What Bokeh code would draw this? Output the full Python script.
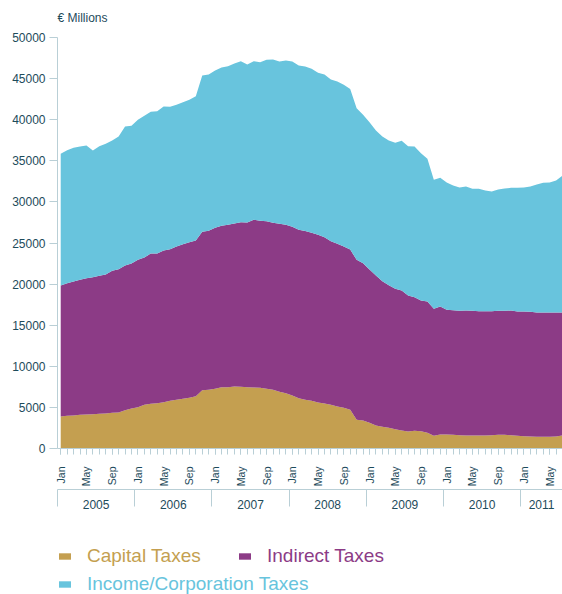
import math
from bokeh.plotting import figure
from bokeh.layouts import column
from bokeh.models import (Range1d, LinearAxis, FixedTicker, SingleIntervalTicker,
                          NumeralTickFormatter, Legend, LegendItem, ColumnDataSource)
from bokeh.embed import file_html
from bokeh.resources import INLINE

years = ["2005", "2006", "2007", "2008", "2009", "2010", "2011"]
month_names = ["Jan", "Feb", "Mar", "Apr", "May", "Jun",
               "Jul", "Aug", "Sep", "Oct", "Nov", "Dec"]
shown_months = ["Jan", "May", "Sep"]

capital = [3890, 3970, 4010, 4100, 4140, 4180, 4220, 4260, 4340, 4380,
           4660, 4870, 5030, 5310, 5430, 5510, 5640, 5800, 5920, 6040,
           6160, 6370, 7100, 7140, 7260, 7460, 7460, 7540, 7500, 7460,
           7420, 7380, 7260, 7140, 6900, 6730, 6450, 6120, 5920, 5800,
           5600, 5470, 5310, 5110, 4950, 4710, 3490, 3410, 3130, 2800,
           2640, 2510, 2350, 2190, 2070, 2150, 2110, 1910, 1540, 1700,
           1700, 1660, 1620, 1580, 1580, 1580, 1580, 1620, 1660, 1660,
           1620, 1540, 1500, 1460, 1420, 1420, 1420, 1460, 1580]

indirect = [15940, 16140, 16310, 16420, 16580, 16660, 16790, 16910, 17280, 17430,
            17600, 17640, 17920, 17930, 18290, 18210, 18450, 18450, 18650, 18810,
            18940, 18930, 19260, 19340, 19590, 19630, 19750, 19830, 20030, 20030,
            20400, 20320, 20390, 20320, 20430, 20480, 20520, 20480, 20540, 20440,
            20400, 20240, 19910, 19790, 19620, 19500, 19460, 19130, 18650, 18250,
            17710, 17360, 17080, 17030, 16540, 16260, 15890, 15970, 15450, 15570,
            15170, 15170, 15130, 15210, 15170, 15130, 15130, 15090, 15090, 15090,
            15170, 15130, 15170, 15170, 15120, 15120, 15120, 15080, 14960]

income = [16020, 16180, 16260, 16220, 16140, 15410, 15770, 15900, 15850, 16140,
          16910, 16740, 17030, 17230, 17240, 17320, 17510, 17320, 17240, 17280,
          17320, 17560, 19010, 19020, 19130, 19260, 19300, 19470, 19580, 19220,
          19290, 19290, 19630, 19860, 19750, 19990, 20110, 19990, 20010, 19950,
          19700, 19790, 19670, 19750, 19670, 19540, 18450, 18050, 17920, 17630,
          17600, 17600, 17760, 18210, 18170, 18330, 17920, 17360, 15700, 15660,
          15490, 15160, 15000, 15080, 14840, 14880, 14680, 14560, 14760, 14880,
          14920, 15040, 15080, 15240, 15580, 15780, 15820, 16060, 16670]

series_names = ["Capital Taxes", "Indirect Taxes", "Income/Corporation Taxes"]
colors = ["#c49f50", "#8c3b86", "#68c4dd"]

n = len(capital)
month = list(range(n))
src = ColumnDataSource(dict(month=month, capital=capital, indirect=indirect, income=income))

TEAL = "#1d4b5b"
LINE = "#b9cfd6"
FONT = "Liberation Sans"

p = figure(width=562, height=520, output_backend="svg", toolbar_location=None,
           x_range=Range1d(-0.5, n - 1), y_range=Range1d(0, 50000),
           min_border_left=57, min_border_right=0, min_border_top=0, min_border_bottom=72,
           title="€ Millions")
p.outline_line_color = None
p.xgrid.visible = False
p.ygrid.visible = False
p.background_fill_color = "white"

p.title.text_font_size = "12px"
p.title.text_font_style = "normal"
p.title.text_color = TEAL
p.title.text_font = FONT
p.title.align = "left"
p.title.vertical_align = "top"
p.title.standoff = 21

rs = p.varea_stack(["capital", "indirect", "income"], x="month", source=src, color=colors)

# y axis
ya = p.yaxis[0]
ya.ticker = SingleIntervalTicker(interval=5000)
ya.formatter = NumeralTickFormatter(format="0")
ya.axis_line_color = LINE
ya.major_tick_line_color = LINE
ya.major_tick_out = 8
ya.major_tick_in = 0
ya.minor_tick_line_color = None
ya.major_label_standoff = 4
ya.major_label_text_font_size = "12px"
ya.major_label_text_color = TEAL
ya.major_label_text_font = FONT

# month axis
xa = p.xaxis[0]
major_months = [i for i in month if month_names[i % 12] in shown_months]
xa.ticker = FixedTicker(ticks=major_months, minor_ticks=month)
xa.major_label_overrides = {i: month_names[i % 12] for i in major_months}
xa.major_label_orientation = math.pi / 2
xa.axis_line_color = LINE
xa.major_tick_line_color = LINE
xa.minor_tick_line_color = LINE
xa.major_tick_out = 6
xa.minor_tick_out = 6
xa.major_tick_in = 0
xa.minor_tick_in = 0
xa.major_label_standoff = 12
xa.major_label_text_font_size = "10.5px"
xa.major_label_text_color = TEAL
xa.major_label_text_font = FONT

# year axis
bounds = []
mids = []
for k, yname in enumerate(years):
    start = 12 * k - 0.5
    end = min(12 * k + 11.5, n - 1)
    bounds.append(start)
    mids.append((start + end) / 2)
year_axis = LinearAxis(ticker=FixedTicker(ticks=mids, minor_ticks=bounds),
                       major_label_overrides={m: y for m, y in zip(mids, years)})
year_axis.axis_line_color = LINE
year_axis.major_tick_line_color = None
year_axis.major_tick_out = 0
year_axis.major_tick_in = 0
year_axis.minor_tick_line_color = LINE
year_axis.minor_tick_out = 17
year_axis.minor_tick_in = 0
year_axis.major_label_standoff = -7
year_axis.major_label_text_font_size = "12px"
year_axis.major_label_text_color = TEAL
year_axis.major_label_text_font = FONT
p.add_layout(year_axis, "below")

# legend strip below the chart
lg = figure(width=562, height=74, output_backend="svg", toolbar_location=None,
            x_range=Range1d(0, 1), y_range=Range1d(0, 1),
            x_axis_location=None, y_axis_location=None,
            min_border_left=0, min_border_right=0, min_border_top=0, min_border_bottom=0)
lg.outline_line_color = None
lg.xgrid.visible = False
lg.ygrid.visible = False

legend_pos = [(0, 27), (180, 27), (0, -1)]
for name, c, loc in zip(series_names, colors, legend_pos):
    r = lg.varea(x=[0], y1=[0], y2=[0], color=c)
    leg = Legend(items=[LegendItem(label=name, renderers=[r])], location=loc,
                 orientation="horizontal", glyph_width=15, glyph_height=8,
                 label_standoff=15, padding=0, margin=0, spacing=0,
                 border_line_color=None, background_fill_alpha=0,
                 label_text_font_size="19px", label_text_color=c,
                 label_text_font=FONT)
    lg.add_layout(leg)

layout = column(p, lg, spacing=0)
open("out.html", "w").write(file_html(layout, INLINE))
